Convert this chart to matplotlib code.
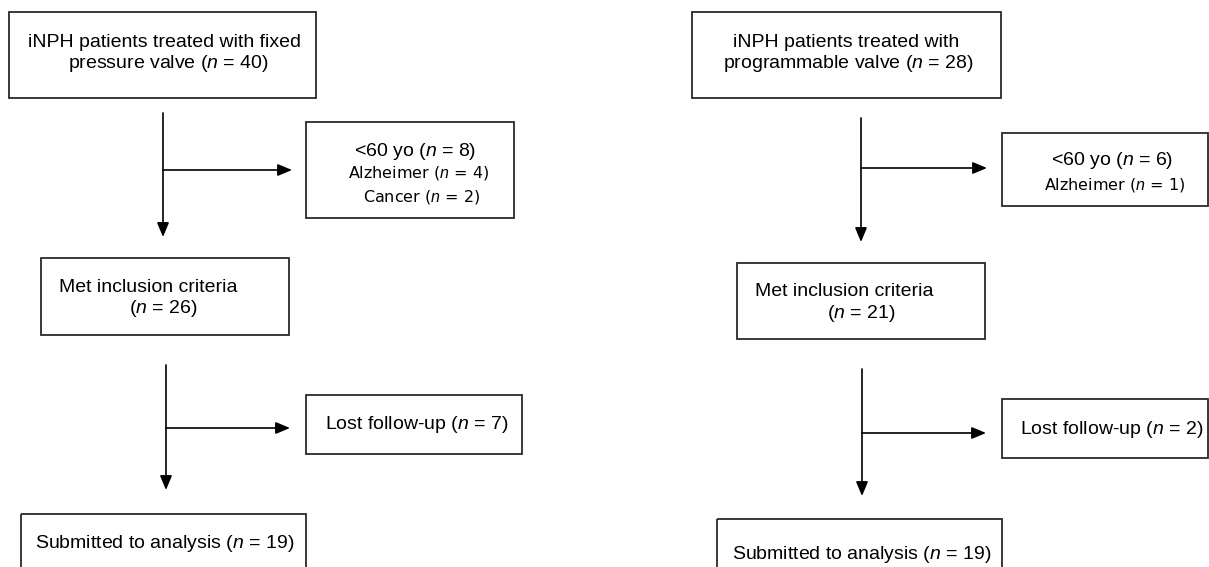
import matplotlib
matplotlib.use("Agg")
import matplotlib.pyplot as plt
from matplotlib.patches import Rectangle, FancyArrowPatch

plt.rcParams['mathtext.fontset'] = 'custom'
plt.rcParams['mathtext.rm'] = 'Liberation Sans'
plt.rcParams['mathtext.it'] = 'Liberation Sans:italic'

# ---- data ----
group_line1 = ["iNPH patients treated with fixed", "iNPH patients treated with"]
group_line2 = ["pressure valve", "programmable valve"]
n_total = [40, 28]
excl_reasons_fixed = ["<60 yo", "Alzheimer", "Cancer"]
excl_counts_fixed = [8, 4, 2]
excl_reasons_prog = ["<60 yo", "Alzheimer"]
excl_counts_prog = [6, 1]
included_label = "Met inclusion criteria"
n_included = [26, 21]
lost_label = "Lost follow-up"
n_lost = [7, 2]
analysed_label = "Submitted to analysis"
n_analysed = [19, 19]

N = r"$\mathit{n}$"
def cnt(v):
    return f"({N} = {v})"

W, H = 1209, 567
fig = plt.figure(figsize=(W / 100, H / 100), dpi=100)
ax = fig.add_axes([0, 0, 1, 1])
ax.set_xlim(0, W)
ax.set_ylim(H, 0)
ax.axis('off')

MAIN = dict(family='Liberation Sans', fontsize=14, color='black')
SMALL = dict(family='DejaVu Sans', fontsize=11.5, color='black')
EDGE = '#2a2a2a'

def box(x0, y0, x1, y1):
    ax.add_patch(Rectangle((x0, y0), x1 - x0, y1 - y0, fill=False,
                           edgecolor=EDGE, lw=1.3))

def line(x0, y0, x1, y1):
    ax.plot([x0, x1], [y0, y1], color='black', lw=1.2, solid_capstyle='butt')

def arrow(x0, y0, x1, y1):
    ax.add_patch(FancyArrowPatch((x0, y0), (x1, y1),
                 arrowstyle='-|>,head_length=0.43,head_width=0.18',
                 mutation_scale=20, lw=1.2, color='black',
                 shrinkA=0, shrinkB=0))

panels = [
    dict(b1=(9, 12, 316, 98), t1=[(28, 47), (68, 68)],
         v1=(163, 113, 237), h1=(170, 163, 292),
         ex=(306, 122, 514, 218), ext=[(415, 156), (419, 178), (422, 201)],
         b2=(41, 258, 289, 335), t2=[(59, 292), (129, 313)],
         v2=(166, 365, 490), h2=(428, 166, 290),
         lo=(306, 395, 522, 454), lot=(325, 429),
         b3=(21, 514, 306, 600), b3t=(35, 548),
         reasons=excl_reasons_fixed, counts=excl_counts_fixed),
    dict(b1=(692, 12, 1001, 98), t1=[(733, 47), (723, 68)],
         v1=(861, 118, 242), h1=(168, 861, 987),
         ex=(1002, 133, 1208, 206), ext=[(1112, 165), (1115, 189)],
         b2=(737, 263, 985, 339), t2=[(755, 296), (827, 318)],
         v2=(862, 369, 496), h2=(433, 862, 986),
         lo=(1002, 399, 1208, 458), lot=(1020, 434),
         b3=(717, 519, 1002, 600), b3t=(732, 559),
         reasons=excl_reasons_prog, counts=excl_counts_prog),
]

for i, p in enumerate(panels):
    box(*p['b1'])
    ax.text(*p['t1'][0], group_line1[i], ha='left', va='baseline', **MAIN)
    ax.text(*p['t1'][1], f"{group_line2[i]} {cnt(n_total[i])}",
            ha='left', va='baseline', **MAIN)
    x, ya, yb = p['v1']
    arrow(x, ya, x, yb)
    y, xa, xb = p['h1']
    arrow(xa, y, xb, y)
    box(*p['ex'])
    for j, (r, c) in enumerate(zip(p['reasons'], p['counts'])):
        style = MAIN if j == 0 else SMALL
        ax.text(*p['ext'][j], f"{r} {cnt(c)}", ha='center', va='baseline', **style)
    box(*p['b2'])
    ax.text(*p['t2'][0], included_label, ha='left', va='baseline', **MAIN)
    ax.text(*p['t2'][1], cnt(n_included[i]), ha='left', va='baseline', **MAIN)
    x, ya, yb = p['v2']
    arrow(x, ya, x, yb)
    y, xa, xb = p['h2']
    arrow(xa, y, xb, y)
    box(*p['lo'])
    ax.text(*p['lot'], f"{lost_label} {cnt(n_lost[i])}", ha='left', va='baseline', **MAIN)
    box(*p['b3'])
    ax.text(*p['b3t'], f"{analysed_label} {cnt(n_analysed[i])}",
            ha='left', va='baseline', **MAIN)

fig.savefig("out.png", dpi=100)
